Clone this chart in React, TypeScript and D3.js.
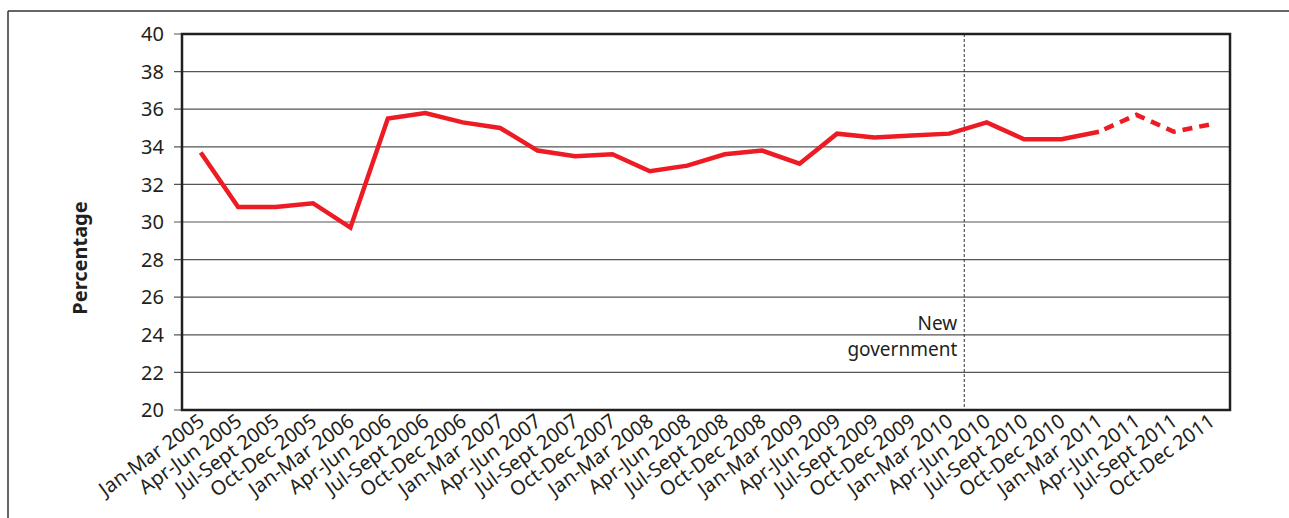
import React from "react";
import * as d3 from "d3";

const categories = [
  "Jan-Mar 2005", "Apr-Jun 2005", "Jul-Sept 2005", "Oct-Dec 2005",
  "Jan-Mar 2006", "Apr-Jun 2006", "Jul-Sept 2006", "Oct-Dec 2006",
  "Jan-Mar 2007", "Apr-Jun 2007", "Jul-Sept 2007", "Oct-Dec 2007",
  "Jan-Mar 2008", "Apr-Jun 2008", "Jul-Sept 2008", "Oct-Dec 2008",
  "Jan-Mar 2009", "Apr-Jun 2009", "Jul-Sept 2009", "Oct-Dec 2009",
  "Jan-Mar 2010", "Apr-Jun 2010", "Jul-Sept 2010", "Oct-Dec 2010",
  "Jan-Mar 2011", "Apr-Jun 2011", "Jul-Sept 2011", "Oct-Dec 2011",
];

const values = [
  33.7, 30.8, 30.8, 31.0,
  29.7, 35.5, 35.8, 35.3,
  35.0, 33.8, 33.5, 33.6,
  32.7, 33.0, 33.6, 33.8,
  33.1, 34.7, 34.5, 34.6,
  34.7, 35.3, 34.4, 34.4,
  34.8, 35.7, 34.8, 35.2,
];

const yTicks = [20, 22, 24, 26, 28, 30, 32, 34, 36, 38, 40];
const dashedFromIndex = 24;
const newGovPosition = 20.4;

const W = 1289;
const H = 518;
const left = 182;
const right = 1230;
const top = 34;
const bottom = 410;
const FONT = "'Noto Sans', 'Open Sans', sans-serif";
const RED = "#ED1C24";
const TEXT = "#231f20";

export default function App() {
  const x = d3.scaleLinear().domain([-0.5, categories.length - 0.5]).range([left, right]);
  const y = d3.scaleLinear().domain([20, 40]).range([bottom, top]);

  const line = d3
    .line<number>()
    .x((_, i) => x(i))
    .y((d) => y(d));

  const solidPts = values.slice(0, dashedFromIndex + 1);
  const dashedPts = values.slice(dashedFromIndex);
  const dashedLine = d3
    .line<number>()
    .x((_, i) => x(i + dashedFromIndex))
    .y((d) => y(d));

  const gx = x(newGovPosition);

  return (
    <svg
      width={W}
      height={H}
      style={{ position: "absolute", left: 0, top: 0, background: "#fff" }}
      fontFamily={FONT}
    >
      {/* outer frame */}
      <line x1={8} x2={W} y1={11} y2={11} stroke="#333" strokeWidth={1.5} />
      <line x1={8} x2={8} y1={11} y2={H} stroke="#333" strokeWidth={1.5} />

      {/* grid lines and ticks */}
      {yTicks.map((t) => (
        <g key={t}>
          <line x1={174} x2={right} y1={y(t)} y2={y(t)} stroke="#555" strokeWidth={1.2} />
          <text x={164} y={y(t)} dy="0.36em" textAnchor="end" fontSize={20} fill={TEXT}>
            {t}
          </text>
        </g>
      ))}

      {/* new government line */}
      <line
        x1={gx}
        x2={gx}
        y1={top}
        y2={bottom}
        stroke="#333"
        strokeWidth={1}
        strokeDasharray="3,2"
      />
      <text x={gx - 7} y={330} textAnchor="end" fontSize={19} fill={TEXT}>
        New
      </text>
      <text x={gx - 7} y={356} textAnchor="end" fontSize={19} fill={TEXT}>
        government
      </text>

      {/* plot frame */}
      <rect
        x={left}
        y={top}
        width={right - left}
        height={bottom - top}
        fill="none"
        stroke={TEXT}
        strokeWidth={2.5}
      />

      {/* data */}
      <path d={line(solidPts) || ""} fill="none" stroke={RED} strokeWidth={4.5} />
      <path
        d={dashedLine(dashedPts) || ""}
        fill="none"
        stroke={RED}
        strokeWidth={4.5}
        strokeDasharray="10,7"
        strokeDashoffset={-6}
      />

      {/* x labels */}
      {categories.map((c, i) => (
        <text
          key={c}
          transform={`translate(${x(i) + 5},${424}) rotate(-36)`}
          textAnchor="end"
          fontSize={20}
          fill={TEXT}
        >
          {c}
        </text>
      ))}

      {/* y title */}
      <text
        transform={`translate(87,${258}) rotate(-90)`}
        textAnchor="middle"
        fontSize={20}
        fontWeight="bold"
        fill={TEXT}
      >
        Percentage
      </text>
    </svg>
  );
}
